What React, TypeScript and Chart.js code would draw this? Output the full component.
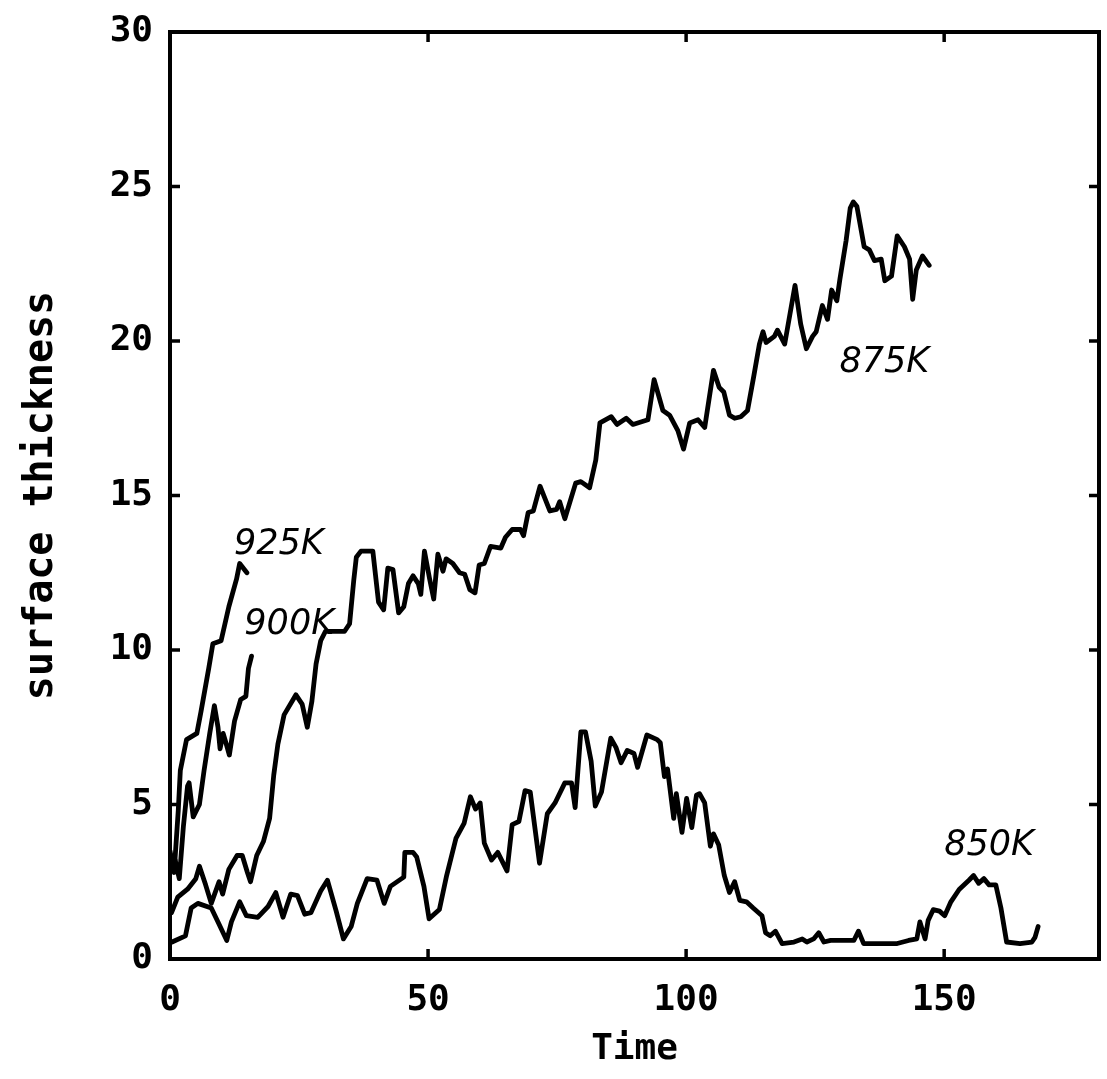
import React, { useEffect, useRef } from "react";
import { Chart, registerables } from "chart.js";

Chart.register(...registerables);

// ---- tick values ----
const xTickValues = [0, 50, 100, 150];
const yTickValues = [0, 5, 10, 15, 20, 25, 30];

// ---- 925K ----
const time925 = [0, 0.8, 1.6, 2.0, 3.2, 5.2, 6.0, 7.5, 8.3, 9.9, 11.4, 12.9, 13.5, 14.9];
const thick925 = [3.5, 2.8, 4.8, 6.1, 7.1, 7.3, 8.0, 9.4, 10.2, 10.3, 11.4, 12.3, 12.8, 12.5];

// ---- 900K ----
const time900 = [0, 1.0, 1.8, 2.6, 3.4, 3.7, 4.5, 5.7, 6.6, 7.7, 8.6, 9.3, 9.7, 10.3, 11.0, 11.5, 12.5, 13.7, 14.7, 15.2, 15.8];
const thick900 = [3.0, 3.2, 2.6, 4.3, 5.6, 5.7, 4.6, 5.0, 6.1, 7.3, 8.2, 7.5, 6.8, 7.3, 6.9, 6.6, 7.7, 8.4, 8.5, 9.4, 9.8];

// ---- 875K ----
const time875 = [
  0.3, 1.5, 3.4, 5.0, 5.7, 6.9, 8.0, 9.5, 10.2, 11.4, 13.0, 14.0, 15.0, 15.6, 16.8, 18.1, 19.3, 20.1, 20.9, 22.1,
  24.4, 25.6, 26.6, 27.5, 28.3, 29.2, 30.1, 33.8, 34.8, 35.6, 36.1, 37.0, 39.3, 40.4, 41.4, 42.2, 43.2, 44.3, 45.3, 46.2,
  47.1, 48.1, 48.6, 49.3, 50.3, 51.1, 51.9, 52.9, 53.5, 54.8, 56.1, 57.1, 58.1, 59.1, 59.9, 60.9, 62.1, 64.1, 65.0, 66.3,
  67.9, 68.5, 69.4, 70.4, 71.7, 73.6, 74.9, 75.5, 76.5, 78.6, 79.6, 81.3, 82.5, 83.3, 85.5, 86.6, 88.4, 89.7, 92.6, 93.8,
  95.5, 96.8, 98.4, 99.5, 100.7, 102.3, 103.6, 105.3, 106.4, 107.3, 108.4, 109.4, 110.6, 111.9, 113.1, 114.2, 114.9, 115.5, 117.1, 117.7,
  119.1, 121.1, 122.2, 123.3, 124.5, 125.2, 126.4, 127.4, 128.2, 129.2, 129.8, 131.0, 131.8, 132.4, 133.1, 134.5, 135.5, 136.5, 137.8, 138.5,
  139.8, 140.9, 142.3, 143.3, 143.9, 144.6, 145.8, 147.1,
];
const thick875 = [
  1.5, 2.0, 2.26, 2.6, 3.0, 2.4, 1.8, 2.5, 2.1, 2.9, 3.35, 3.35, 2.8, 2.5, 3.35, 3.8, 4.55, 5.95, 6.95, 7.9,
  8.55, 8.25, 7.5, 8.35, 9.55, 10.3, 10.6, 10.6, 10.85, 12.25, 13.0, 13.2, 13.2, 11.55, 11.3, 12.65, 12.6, 11.2, 11.4, 12.15,
  12.4, 12.15, 11.8, 13.2, 12.3, 11.65, 13.1, 12.55, 12.95, 12.8, 12.5, 12.45, 11.95, 11.85, 12.75, 12.8, 13.35, 13.3, 13.65, 13.9,
  13.9, 13.7, 14.45, 14.5, 15.3, 14.5, 14.55, 14.8, 14.25, 15.4, 15.45, 15.25, 16.15, 17.35, 17.55, 17.3, 17.5, 17.3, 17.45, 18.75,
  17.75, 17.6, 17.1, 16.5, 17.35, 17.45, 17.2, 19.05, 18.5, 18.35, 17.6, 17.5, 17.55, 17.75, 18.85, 19.9, 20.3, 19.95, 20.15, 20.35,
  19.9, 21.8, 20.55, 19.75, 20.15, 20.3, 21.15, 20.7, 21.65, 21.3, 22.0, 23.25, 24.3, 24.5, 24.35, 23.05, 22.95, 22.6, 22.65, 21.95,
  22.1, 23.4, 23.05, 22.65, 21.35, 22.3, 22.75, 22.45,
];

// ---- 850K ----
const time850 = [
  0.4, 3.0, 4.1, 5.4, 8.0, 9.3, 11.0, 11.9, 13.5, 14.8, 17.0, 19.0, 20.5, 21.9, 23.4, 24.7, 26.1, 27.3, 29.2, 30.5,
  32.2, 33.6, 35.1, 36.3, 38.2, 40.1, 41.5, 42.7, 45.3, 45.5, 47.1, 47.8, 49.2, 50.2, 52.2, 53.6, 55.4, 57.0, 58.2, 59.2,
  60.1, 60.9, 62.3, 63.5, 65.3, 66.3, 67.6, 68.8, 69.8, 71.6, 73.1, 74.6, 76.5, 77.8, 78.5, 79.6, 80.5, 81.6, 82.4, 83.6,
  85.4, 86.4, 87.4, 88.6, 89.9, 90.6, 92.4, 94.4, 95.0, 95.8, 96.4, 97.6, 98.1, 99.2, 100.1, 101.1, 102.0, 102.6, 103.6, 104.7,
  105.3, 106.3, 107.4, 108.4, 109.4, 110.4, 111.7, 113.0, 114.7, 115.4, 116.3, 117.3, 118.6, 120.9, 122.5, 123.4, 124.7, 125.7, 126.7, 128.0,
  132.5, 133.4, 134.4, 137.6, 140.9, 143.1, 144.7, 145.3, 146.3, 146.9, 147.9, 149.1, 150.1, 151.3, 152.9, 154.8, 155.7, 156.7, 157.7, 158.7,
  160.0, 161.0, 162.1, 164.7, 167.0, 167.6, 168.2,
];
const thick850 = [
  0.55, 0.75, 1.65, 1.8, 1.65, 1.2, 0.6, 1.2, 1.85, 1.4, 1.35, 1.7, 2.15, 1.35, 2.1, 2.05, 1.45, 1.5, 2.2, 2.55,
  1.55, 0.65, 1.05, 1.8, 2.6, 2.55, 1.8, 2.35, 2.65, 3.45, 3.45, 3.3, 2.35, 1.3, 1.6, 2.7, 3.9, 4.4, 5.25, 4.85,
  5.05, 3.75, 3.2, 3.45, 2.85, 4.35, 4.45, 5.45, 5.4, 3.1, 4.7, 5.05, 5.7, 5.7, 4.9, 7.35, 7.35, 6.4, 4.95, 5.4,
  7.15, 6.85, 6.35, 6.75, 6.65, 6.2, 7.25, 7.1, 7.0, 5.9, 6.15, 4.55, 5.35, 4.1, 5.2, 4.25, 5.3, 5.35, 5.05, 3.65,
  4.05, 3.7, 2.7, 2.15, 2.5, 1.9, 1.85, 1.65, 1.4, 0.85, 0.75, 0.9, 0.5, 0.55, 0.65, 0.55, 0.65, 0.85, 0.55, 0.6,
  0.6, 0.9, 0.5, 0.5, 0.5, 0.6, 0.65, 1.2, 0.65, 1.25, 1.6, 1.55, 1.4, 1.85, 2.25, 2.55, 2.7, 2.45, 2.6, 2.4,
  2.4, 1.65, 0.55, 0.5, 0.55, 0.7, 1.05,
];

// ---- curve labels (handwritten annotations) ----
const labelTexts = ["925K", "900K", "875K", "850K"];
const labelTimes = [21.1, 23.1, 138.4, 158.7];
const labelThicks = [13.4, 10.8, 19.3, 3.65];

function toPoints(xs: number[], ys: number[]) {
  return xs.map((x, i) => ({ x, y: ys[i] }));
}

const framePlugin = {
  id: "frameTicksLabels",
  afterDatasetsDraw(chart: any) {
    const { ctx, chartArea, scales } = chart;
    const { left, right, top, bottom } = chartArea;
    const xs = scales.x;
    const ys = scales.y;
    ctx.save();
    ctx.strokeStyle = "#000";
    ctx.lineCap = "butt";
    ctx.lineWidth = 4;
    ctx.strokeRect(left, top, right - left, bottom - top);
    ctx.lineWidth = 3.5;
    const len = 10;
    ctx.beginPath();
    for (const v of xTickValues) {
      const px = xs.getPixelForValue(v);
      ctx.moveTo(px, bottom);
      ctx.lineTo(px, bottom - len);
      ctx.moveTo(px, top);
      ctx.lineTo(px, top + len);
    }
    for (const v of yTickValues) {
      const py = ys.getPixelForValue(v);
      ctx.moveTo(left, py);
      ctx.lineTo(left + len, py);
      ctx.moveTo(right, py);
      ctx.lineTo(right - len, py);
    }
    ctx.stroke();

    ctx.fillStyle = "#000";
    ctx.font = "italic 35px 'DejaVu Sans', sans-serif";
    ctx.textAlign = "center";
    ctx.textBaseline = "middle";
    labelTexts.forEach((t, i) => {
      ctx.fillText(t, xs.getPixelForValue(labelTimes[i]), ys.getPixelForValue(labelThicks[i]));
    });
    ctx.restore();
  },
};

export default function App() {
  const canvasRef = useRef<HTMLCanvasElement | null>(null);

  useEffect(() => {
    const canvas = canvasRef.current;
    if (!canvas) return;
    const lineStyle = {
      borderColor: "#000",
      borderWidth: 4.8,
      pointRadius: 0,
      fill: false,
      tension: 0,
      borderJoinStyle: "round" as const,
      borderCapStyle: "round" as const,
    };
    const tickFont = { family: "'DejaVu Sans Mono', monospace", size: 36, weight: "bold" as const };
    const xTitleFont = { family: "'DejaVu Sans Mono', monospace", size: 36, weight: "bold" as const };
    const yTitleFont = { family: "'DejaVu Sans Mono', monospace", size: 40, weight: "bold" as const };

    const chart = new Chart(canvas, {
      type: "line",
      data: {
        datasets: [
          { label: "925K", data: toPoints(time925, thick925), ...lineStyle },
          { label: "900K", data: toPoints(time900, thick900), ...lineStyle },
          { label: "875K", data: toPoints(time875, thick875), ...lineStyle },
          { label: "850K", data: toPoints(time850, thick850), ...lineStyle },
        ],
      },
      options: {
        animation: false,
        responsive: false,
        maintainAspectRatio: false,
        layout: { padding: { left: 0, right: 8, top: 32, bottom: 0 } },
        plugins: { legend: { display: false }, tooltip: { enabled: false } },
        scales: {
          x: {
            type: "linear",
            min: 0,
            max: 180,
            afterBuildTicks: (s: any) => {
              s.ticks = xTickValues.map((v) => ({ value: v }));
            },
            afterFit: (s: any) => {
              s.height = 120;
              s.paddingLeft = 0;
              s.paddingRight = 0;
            },
            grid: { display: false, drawTicks: false },
            border: { display: false },
            ticks: { color: "#000", font: tickFont, padding: 20, maxRotation: 0, autoSkip: false },
            title: { display: true, text: "Time", color: "#000", font: xTitleFont, padding: { top: 0, bottom: 8 } },
          },
          y: {
            type: "linear",
            min: 0,
            max: 30,
            afterBuildTicks: (s: any) => {
              s.ticks = yTickValues.map((v) => ({ value: v }));
            },
            afterFit: (s: any) => {
              s.width = 170;
              s.paddingTop = 0;
              s.paddingBottom = 0;
            },
            grid: { display: false, drawTicks: false },
            border: { display: false },
            ticks: { color: "#000", font: tickFont, padding: 17, autoSkip: false },
            title: {
              display: true,
              text: "surface thickness",
              color: "#000",
              font: yTitleFont,
              padding: { top: 18, bottom: 0 },
            },
          },
        },
      },
      plugins: [framePlugin],
    });
    return () => chart.destroy();
  }, []);

  return (
    <div style={{ position: "absolute", left: 0, top: 0, width: 1107, height: 1079, background: "#fff" }}>
      <canvas ref={canvasRef} width={1107} height={1079} style={{ display: "block" }} />
    </div>
  );
}
